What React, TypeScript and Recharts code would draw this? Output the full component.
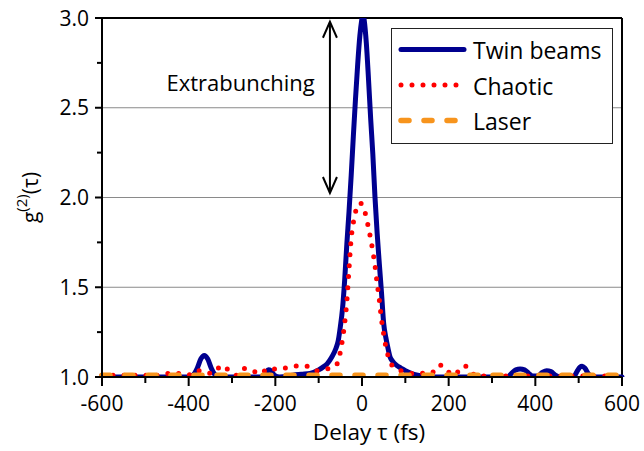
import React from 'react';
import { LineChart, Line, XAxis, YAxis, ReferenceLine, ReferenceDot, Legend } from 'recharts';

// delay tau (fs) and g2 values
const twinTau = [-600, -400, -390, -380, -372, -364, -356, -348, -340, -330, -230, -222, -216, -210, -202, -190, -160, -140, -120, -100, -90, -80, -70, -60, -55, -50, -45, -40, -35, -30, -25, -20, -15, -10, -5, 0, 2, 5, 10, 15, 20, 25, 30, 35, 40, 45, 50, 55, 60, 65, 70, 80, 90, 100, 120, 140, 160, 335, 345, 355, 365, 375, 385, 395, 405, 416, 426, 436, 446, 456, 488, 496, 503, 508, 514, 522, 530, 600];
const twinG2 = [1.0, 1.0, 1.01, 1.05, 1.1, 1.12, 1.1, 1.05, 1.015, 1.0, 1.0, 1.02, 1.04, 1.035, 1.01, 1.0, 1.01, 1.015, 1.02, 1.04, 1.055, 1.075, 1.11, 1.16, 1.2, 1.28, 1.38, 1.54, 1.74, 1.92, 2.12, 2.34, 2.55, 2.74, 2.9, 3.0, 3.03, 2.99, 2.86, 2.66, 2.44, 2.24, 2.0, 1.8, 1.63, 1.47, 1.3, 1.22, 1.16, 1.11, 1.09, 1.065, 1.05, 1.035, 1.015, 1.005, 1.0, 1.0, 1.02, 1.04, 1.045, 1.04, 1.02, 1.005, 1.005, 1.025, 1.035, 1.03, 1.01, 1.0, 1.0, 1.03, 1.055, 1.06, 1.05, 1.02, 1.0, 1.0];

const chaoticTau = [-600, -470, -452, -435, -415, -393, -378, -360, -342, -324, -308, -289, -271, -252, -235, -216, -195, -174, -151, -130, -108, -85, -66, -55, -50, -45, -40, -35, -30, -25, -20, -15, -10, -5, 0, 5, 10, 15, 20, 25, 30, 35, 40, 45, 50, 55, 60, 68, 80, 100, 115, 130, 149, 165, 178, 194, 207, 222, 236, 249, 263, 300, 600];
const chaoticG2 = [1.01, 1.01, 1.017, 1.026, 1.015, 1.012, 1.035, 1.02, 1.022, 1.065, 1.04, 1.01, 1.048, 1.035, 1.017, 1.048, 1.043, 1.052, 1.061, 1.061, 1.035, 1.043, 1.054, 1.085, 1.14, 1.21, 1.3, 1.42, 1.6, 1.77, 1.86, 1.92, 1.955, 1.97, 1.96, 1.93, 1.89, 1.83, 1.77, 1.7, 1.62, 1.52, 1.43, 1.32, 1.24, 1.17, 1.12, 1.07, 1.045, 1.03, 1.02, 1.024, 1.017, 1.03, 1.067, 1.048, 1.01, 1.03, 1.063, 1.04, 1.005, 1.005, 1.005];

const laserTau = [-600, -400, -200, 0, 200, 400, 600];
const laserG2 = [1.01, 1.01, 1.01, 1.01, 1.01, 1.01, 1.01];

const xTicks = [-600, -500, -400, -300, -200, -100, 0, 100, 200, 300, 400, 500, 600];
const yTicks = [1, 1.25, 1.5, 1.75, 2, 2.25, 2.5, 2.75, 3];
const gridValues = [1.5, 2, 2.5];

const zip = (ts: number[], vs: number[]) => ts.map((t, i) => ({ t, v: vs[i] }));

const SERIES = [
  { name: 'Twin beams', data: zip(twinTau, twinG2), color: '#00008f', width: 5, dash: undefined },
  { name: 'Chaotic', data: zip(chaoticTau, chaoticG2), color: '#ff0000', width: 5, dash: '0 11' },
  { name: 'Laser', data: zip(laserTau, laserG2), color: '#f7941d', width: 5.5, dash: '8 15' },
];

const FONT = '"Open Sans", sans-serif';

const YTick = (props: any) => {
  const { x, y, payload } = props;
  const major = Math.abs(payload.value * 2 - Math.round(payload.value * 2)) < 1e-6;
  return (
    <g>
      <line x1={x - (major ? 7 : 5)} x2={x} y1={y} y2={y} stroke="#000" strokeWidth={2} />
      {major && (
        <text x={x - 13} y={y + 7.5} textAnchor="end" fontSize={21} fontFamily={FONT} fill="#000">
          {payload.value.toFixed(1)}
        </text>
      )}
    </g>
  );
};

const XTick = (props: any) => {
  const { x, y, payload } = props;
  const major = payload.value % 200 === 0;
  return (
    <g>
      <line x1={x} x2={x} y1={y} y2={y + (major ? 9 : 6)} stroke="#000" strokeWidth={2} />
      {major && (
        <text x={x} y={y + 34} textAnchor="middle" fontSize={21} fontFamily={FONT} fill="#000">
          {payload.value}
        </text>
      )}
    </g>
  );
};

const YLabel = (props: any) => {
  const vb = props.viewBox;
  const cx = vb.x + 38;
  const cy = vb.y + vb.height / 2;
  return (
    <text x={cx} y={cy} transform={`rotate(-90, ${cx}, ${cy})`} textAnchor="middle" fontSize={21} fontFamily={FONT} fill="#000">
      g
      <tspan fontSize={15} dy={-11}>(2)</tspan>
      <tspan dy={11}>(τ)</tspan>
    </text>
  );
};

const XLabel = (props: any) => {
  const vb = props.viewBox;
  return (
    <text x={vb.x + vb.width / 2 + 7} y={vb.y + 63} textAnchor="middle" fontSize={22.5} fontFamily={FONT} fill="#000">
      Delay τ (fs)
    </text>
  );
};

const Arrow = (props: any) => {
  const { x1, y1, x2, y2 } = props;
  return (
    <g stroke="#000" strokeWidth={2} fill="none">
      <line x1={x1} y1={y1} x2={x2} y2={y2} />
      <polyline points={`${x1 - 7},${y1 + 16} ${x1},${y1} ${x1 + 7},${y1 + 16}`} />
      <polyline points={`${x2 - 7},${y2 - 16} ${x2},${y2} ${x2 + 7},${y2 - 16}`} />
    </g>
  );
};

const Note = (props: any) => (
  <text x={props.cx} y={props.cy} textAnchor="middle" fontSize={22} fontFamily={FONT} fill="#000">
    Extrabunching
  </text>
);

const LegendBox = () => (
  <svg width={222} height={116}>
    <rect x={0.5} y={0.5} width={221} height={115} fill="#fff" stroke="#222" strokeWidth={1} />
    {SERIES.map((s, i) => {
      const ly = 21.5 + i * 35.5;
      return (
        <g key={s.name}>
          <line x1={10} x2={73} y1={ly} y2={ly} stroke={s.color} strokeWidth={s.width} strokeDasharray={s.dash} strokeLinecap="round" />
          <text x={82} y={ly + 9.5} fontSize={23} fontFamily={FONT} fill="#000">{s.name}</text>
        </g>
      );
    })}
  </svg>
);

export default function App() {
  return (
    <div style={{ position: 'absolute', left: 0, top: 0, background: '#fff' }}>
      <LineChart width={644} height={451} margin={{ top: 18, right: 22, bottom: 0, left: 0 }}>
        <XAxis
          dataKey="t"
          type="number"
          domain={[-600, 600]}
          ticks={xTicks}
          interval={0}
          height={74}
          tickSize={0}
          tickMargin={0}
          tickLine={false}
          tick={<XTick />}
          axisLine={{ stroke: '#000', strokeWidth: 2 }}
          allowDuplicatedCategory={false}
          label={<XLabel />}
        />
        <YAxis
          type="number"
          domain={[1, 3]}
          allowDataOverflow
          ticks={yTicks}
          interval={0}
          width={102}
          tickSize={0}
          tickMargin={0}
          tickLine={false}
          tick={<YTick />}
          axisLine={{ stroke: '#000', strokeWidth: 2 }}
          label={<YLabel />}
        />
        {gridValues.map((g) => (
          <ReferenceLine key={g} y={g} stroke="#8a8a8a" strokeWidth={1} />
        ))}
        <ReferenceLine y={3} stroke="#000" strokeWidth={2} />
        <ReferenceLine x={600} stroke="#000" strokeWidth={2} />
        {SERIES.map((s) => (
          <Line
            key={s.name}
            data={s.data}
            dataKey="v"
            name={s.name}
            type="monotone"
            stroke={s.color}
            strokeWidth={s.width}
            strokeDasharray={s.dash}
            strokeLinecap="round"
            dot={false}
            activeDot={false}
            isAnimationActive={false}
          />
        ))}
        <ReferenceLine segment={[{ x: -74, y: 2.979 }, { x: -74, y: 2.025 }]} shape={<Arrow />} />
        <ReferenceDot x={-280} y={2.595} r={0} shape={<Note />} />
        <Legend
          layout="vertical"
          align="center"
          verticalAlign="middle"
          content={<LegendBox />}
          wrapperStyle={{ left: 391, top: 28, width: 222, height: 116 }}
        />
      </LineChart>
    </div>
  );
}
